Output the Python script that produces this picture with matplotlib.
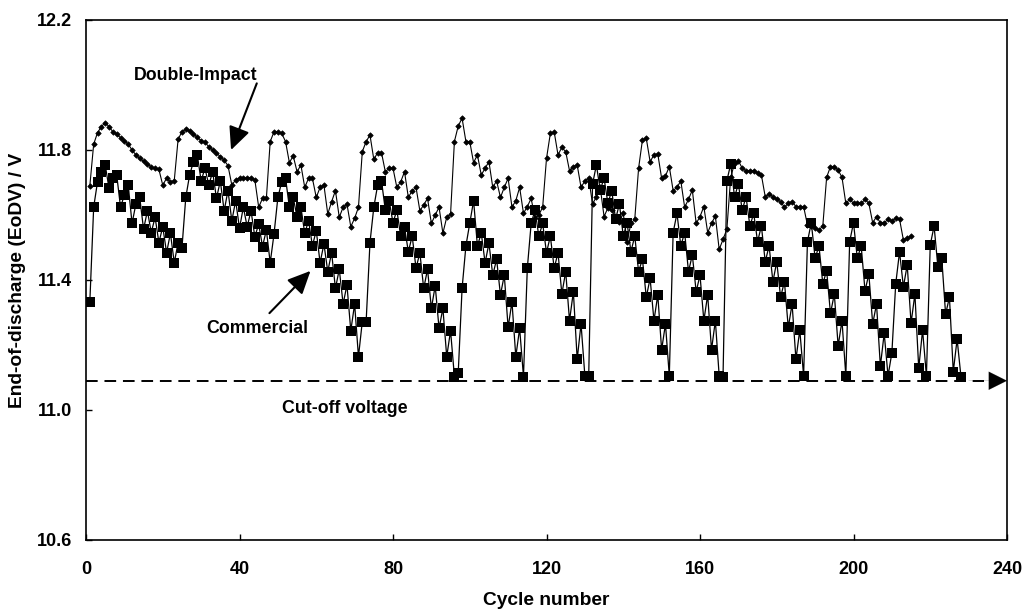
import numpy as np
import matplotlib
matplotlib.use("Agg")
import matplotlib.pyplot as plt

# End-of-discharge voltage per cycle
double_impact_start = 1
double_impact = [
  11.69, 11.818, 11.853, 11.872, 11.884, 11.872, 11.856, 11.848, 11.838, 11.828,
  11.818, 11.80, 11.785, 11.774, 11.765, 11.757, 11.748, 11.744, 11.74, 11.692,
  11.713, 11.702, 11.706, 11.833, 11.856, 11.864, 11.86, 11.849, 11.839, 11.829,
  11.824, 11.81, 11.80, 11.79, 11.78, 11.768, 11.752, 11.692, 11.708, 11.714,
  11.714, 11.714, 11.714, 11.708, 11.624, 11.651, 11.651, 11.826, 11.856, 11.856,
  11.851, 11.826, 11.761, 11.782, 11.733, 11.754, 11.685, 11.713, 11.713, 11.654,
  11.685, 11.692, 11.603, 11.641, 11.675, 11.593, 11.624, 11.634, 11.564, 11.59,
  11.624, 11.795, 11.826, 11.846, 11.771, 11.792, 11.792, 11.733, 11.744, 11.744,
  11.685, 11.702, 11.733, 11.654, 11.675, 11.685, 11.613, 11.631, 11.651, 11.574,
  11.60, 11.624, 11.544, 11.593, 11.603, 11.826, 11.874, 11.898, 11.826, 11.826,
  11.761, 11.785, 11.723, 11.744, 11.764, 11.685, 11.705, 11.654, 11.685, 11.713,
  11.624, 11.644, 11.685, 11.605, 11.626, 11.651, 11.59, 11.60, 11.624, 11.774,
  11.851, 11.856, 11.785, 11.808, 11.795, 11.736, 11.749, 11.754, 11.685, 11.705,
  11.713, 11.634, 11.656, 11.685, 11.595, 11.622, 11.615, 11.59, 11.579, 11.605,
  11.518, 11.574, 11.587, 11.744, 11.831, 11.836, 11.764, 11.785, 11.788, 11.713,
  11.72, 11.749, 11.675, 11.685, 11.705, 11.624, 11.648, 11.677, 11.574, 11.595,
  11.626, 11.546, 11.574, 11.597, 11.494, 11.525, 11.556, 11.716, 11.759, 11.767,
  11.744, 11.736, 11.736, 11.736, 11.73, 11.723, 11.656, 11.665, 11.656, 11.648,
  11.641, 11.624, 11.636, 11.641, 11.626, 11.626, 11.626, 11.569, 11.566, 11.559,
  11.554, 11.566, 11.716, 11.749, 11.749, 11.738, 11.716, 11.636, 11.648, 11.636,
  11.636, 11.636, 11.648, 11.636, 11.576, 11.595, 11.576, 11.576, 11.587, 11.582,
  11.59, 11.587, 11.523, 11.528, 11.535,
]

commercial_start = 1
commercial = [
  11.333, 11.624, 11.702, 11.733, 11.754, 11.682, 11.713, 11.723, 11.624, 11.662,
  11.692, 11.574, 11.634, 11.654, 11.556, 11.613, 11.546, 11.593, 11.515, 11.564,
  11.484, 11.544, 11.453, 11.515, 11.498, 11.654, 11.723, 11.764, 11.785, 11.705,
  11.744, 11.692, 11.733, 11.651, 11.705, 11.613, 11.675, 11.582, 11.644, 11.559,
  11.624, 11.564, 11.613, 11.533, 11.572, 11.503, 11.554, 11.453, 11.542, 11.654,
  11.702, 11.713, 11.624, 11.654, 11.593, 11.624, 11.544, 11.582, 11.505, 11.552,
  11.453, 11.511, 11.426, 11.484, 11.374, 11.433, 11.326, 11.385, 11.244, 11.326,
  11.164, 11.272, 11.272, 11.515, 11.624, 11.692, 11.705, 11.615, 11.644, 11.576,
  11.615, 11.535, 11.562, 11.487, 11.535, 11.436, 11.484, 11.374, 11.433, 11.313,
  11.382, 11.251, 11.313, 11.164, 11.244, 11.103, 11.115, 11.374, 11.505, 11.574,
  11.644, 11.505, 11.544, 11.453, 11.513, 11.415, 11.464, 11.354, 11.415, 11.254,
  11.333, 11.164, 11.251, 11.103, 11.436, 11.574, 11.615, 11.535, 11.574, 11.484,
  11.535, 11.436, 11.484, 11.357, 11.426, 11.275, 11.364, 11.156, 11.265, 11.105,
  11.105, 11.695, 11.754, 11.677, 11.713, 11.636, 11.675, 11.587, 11.634, 11.535,
  11.576, 11.487, 11.535, 11.426, 11.464, 11.347, 11.405, 11.275, 11.354, 11.185,
  11.265, 11.105, 11.546, 11.605, 11.505, 11.546, 11.426, 11.477, 11.364, 11.415,
  11.275, 11.354, 11.185, 11.275, 11.105, 11.103, 11.705, 11.757, 11.656, 11.695,
  11.615, 11.656, 11.566, 11.605, 11.518, 11.566, 11.456, 11.505, 11.395, 11.456,
  11.347, 11.395, 11.254, 11.326, 11.156, 11.246, 11.105, 11.518, 11.576, 11.467,
  11.505, 11.388, 11.429, 11.297, 11.357, 11.197, 11.275, 11.105, 11.518, 11.576,
  11.467, 11.505, 11.367, 11.418, 11.265, 11.326, 11.135, 11.236, 11.105, 11.176,
  11.388, 11.487, 11.379, 11.446, 11.267, 11.357, 11.128, 11.246, 11.105, 11.508,
  11.566, 11.439, 11.467, 11.295, 11.347, 11.118, 11.218, 11.103,
]

cutoff_voltage = 11.09
x_ticks = [0, 40, 80, 120, 160, 200, 240]
y_ticks = [10.6, 11.0, 11.4, 11.8, 12.2]

font = "Liberation Sans"
plt.rcParams["font.family"] = [font, "DejaVu Sans"]
plt.rcParams["font.weight"] = "bold"


def main():
  fig = plt.figure(figsize=(10.22, 6.12), dpi=100)
  ax = fig.add_axes([86 / 1022, 72 / 612, 921 / 1022, 520 / 612])

  di_x = np.arange(double_impact_start, double_impact_start + len(double_impact))
  co_x = np.arange(commercial_start, commercial_start + len(commercial))

  ax.plot(di_x, double_impact, color="black", lw=0.8, marker="D", ms=2.8,
          markerfacecolor="black", markeredgewidth=0.5, zorder=3)
  ax.plot(co_x, commercial, color="black", lw=0.9, marker="s", ms=6.6,
          markerfacecolor="black", markeredgewidth=0, zorder=3)

  # cut-off line with arrow head at the right axis
  ax.plot([0, 234], [cutoff_voltage, cutoff_voltage], color="black", lw=1.4,
          dashes=(6, 3.5), zorder=2)
  ax.annotate("", xy=(240, cutoff_voltage), xytext=(230, cutoff_voltage),
              arrowprops=dict(arrowstyle="-|>,head_length=1.3,head_width=0.65",
                              color="black", lw=0.1, shrinkA=0, shrinkB=0))

  # labels with arrows
  head = "-|>,head_length=1.4,head_width=0.65"
  ax.text(28.5, 12.03, "Double-Impact", fontsize=12.8, fontweight="bold",
          ha="center", va="center")
  ax.annotate("", xy=(37.8, 11.80), xytext=(44.5, 12.005),
              arrowprops=dict(arrowstyle=head, color="black", lw=1.5,
                              shrinkA=0, shrinkB=0))

  ax.text(44.5, 11.25, "Commercial", fontsize=12.8, fontweight="bold",
          ha="center", va="center")
  ax.annotate("", xy=(58.5, 11.428), xytext=(47.8, 11.298),
              arrowprops=dict(arrowstyle=head, color="black", lw=1.5,
                              shrinkA=0, shrinkB=0))

  ax.text(67.5, 11.005, "Cut-off voltage", fontsize=12.8, fontweight="bold",
          ha="center", va="center")

  ax.set_xlim(0, 240)
  ax.set_ylim(10.6, 12.2)
  ax.set_xticks(x_ticks)
  ax.set_yticks(y_ticks)
  ax.set_yticklabels([f"{v:.1f}" for v in y_ticks])
  ax.tick_params(axis="both", direction="in", length=4, width=1, labelsize=13)
  ax.tick_params(axis="x", pad=15)
  ax.tick_params(axis="y", pad=10)
  for lab in ax.get_xticklabels() + ax.get_yticklabels():
    lab.set_fontweight("bold")
  for s in ax.spines.values():
    s.set_linewidth(1.2)

  ax.set_xlabel("Cycle number", fontsize=13.8, fontweight="bold", labelpad=10)
  ax.set_ylabel("End-of-discharge (EoDV) / V", fontsize=13.8,
                fontweight="bold", labelpad=8)

  fig.savefig("out.png", dpi=100)


if __name__ == "__main__":
  main()
